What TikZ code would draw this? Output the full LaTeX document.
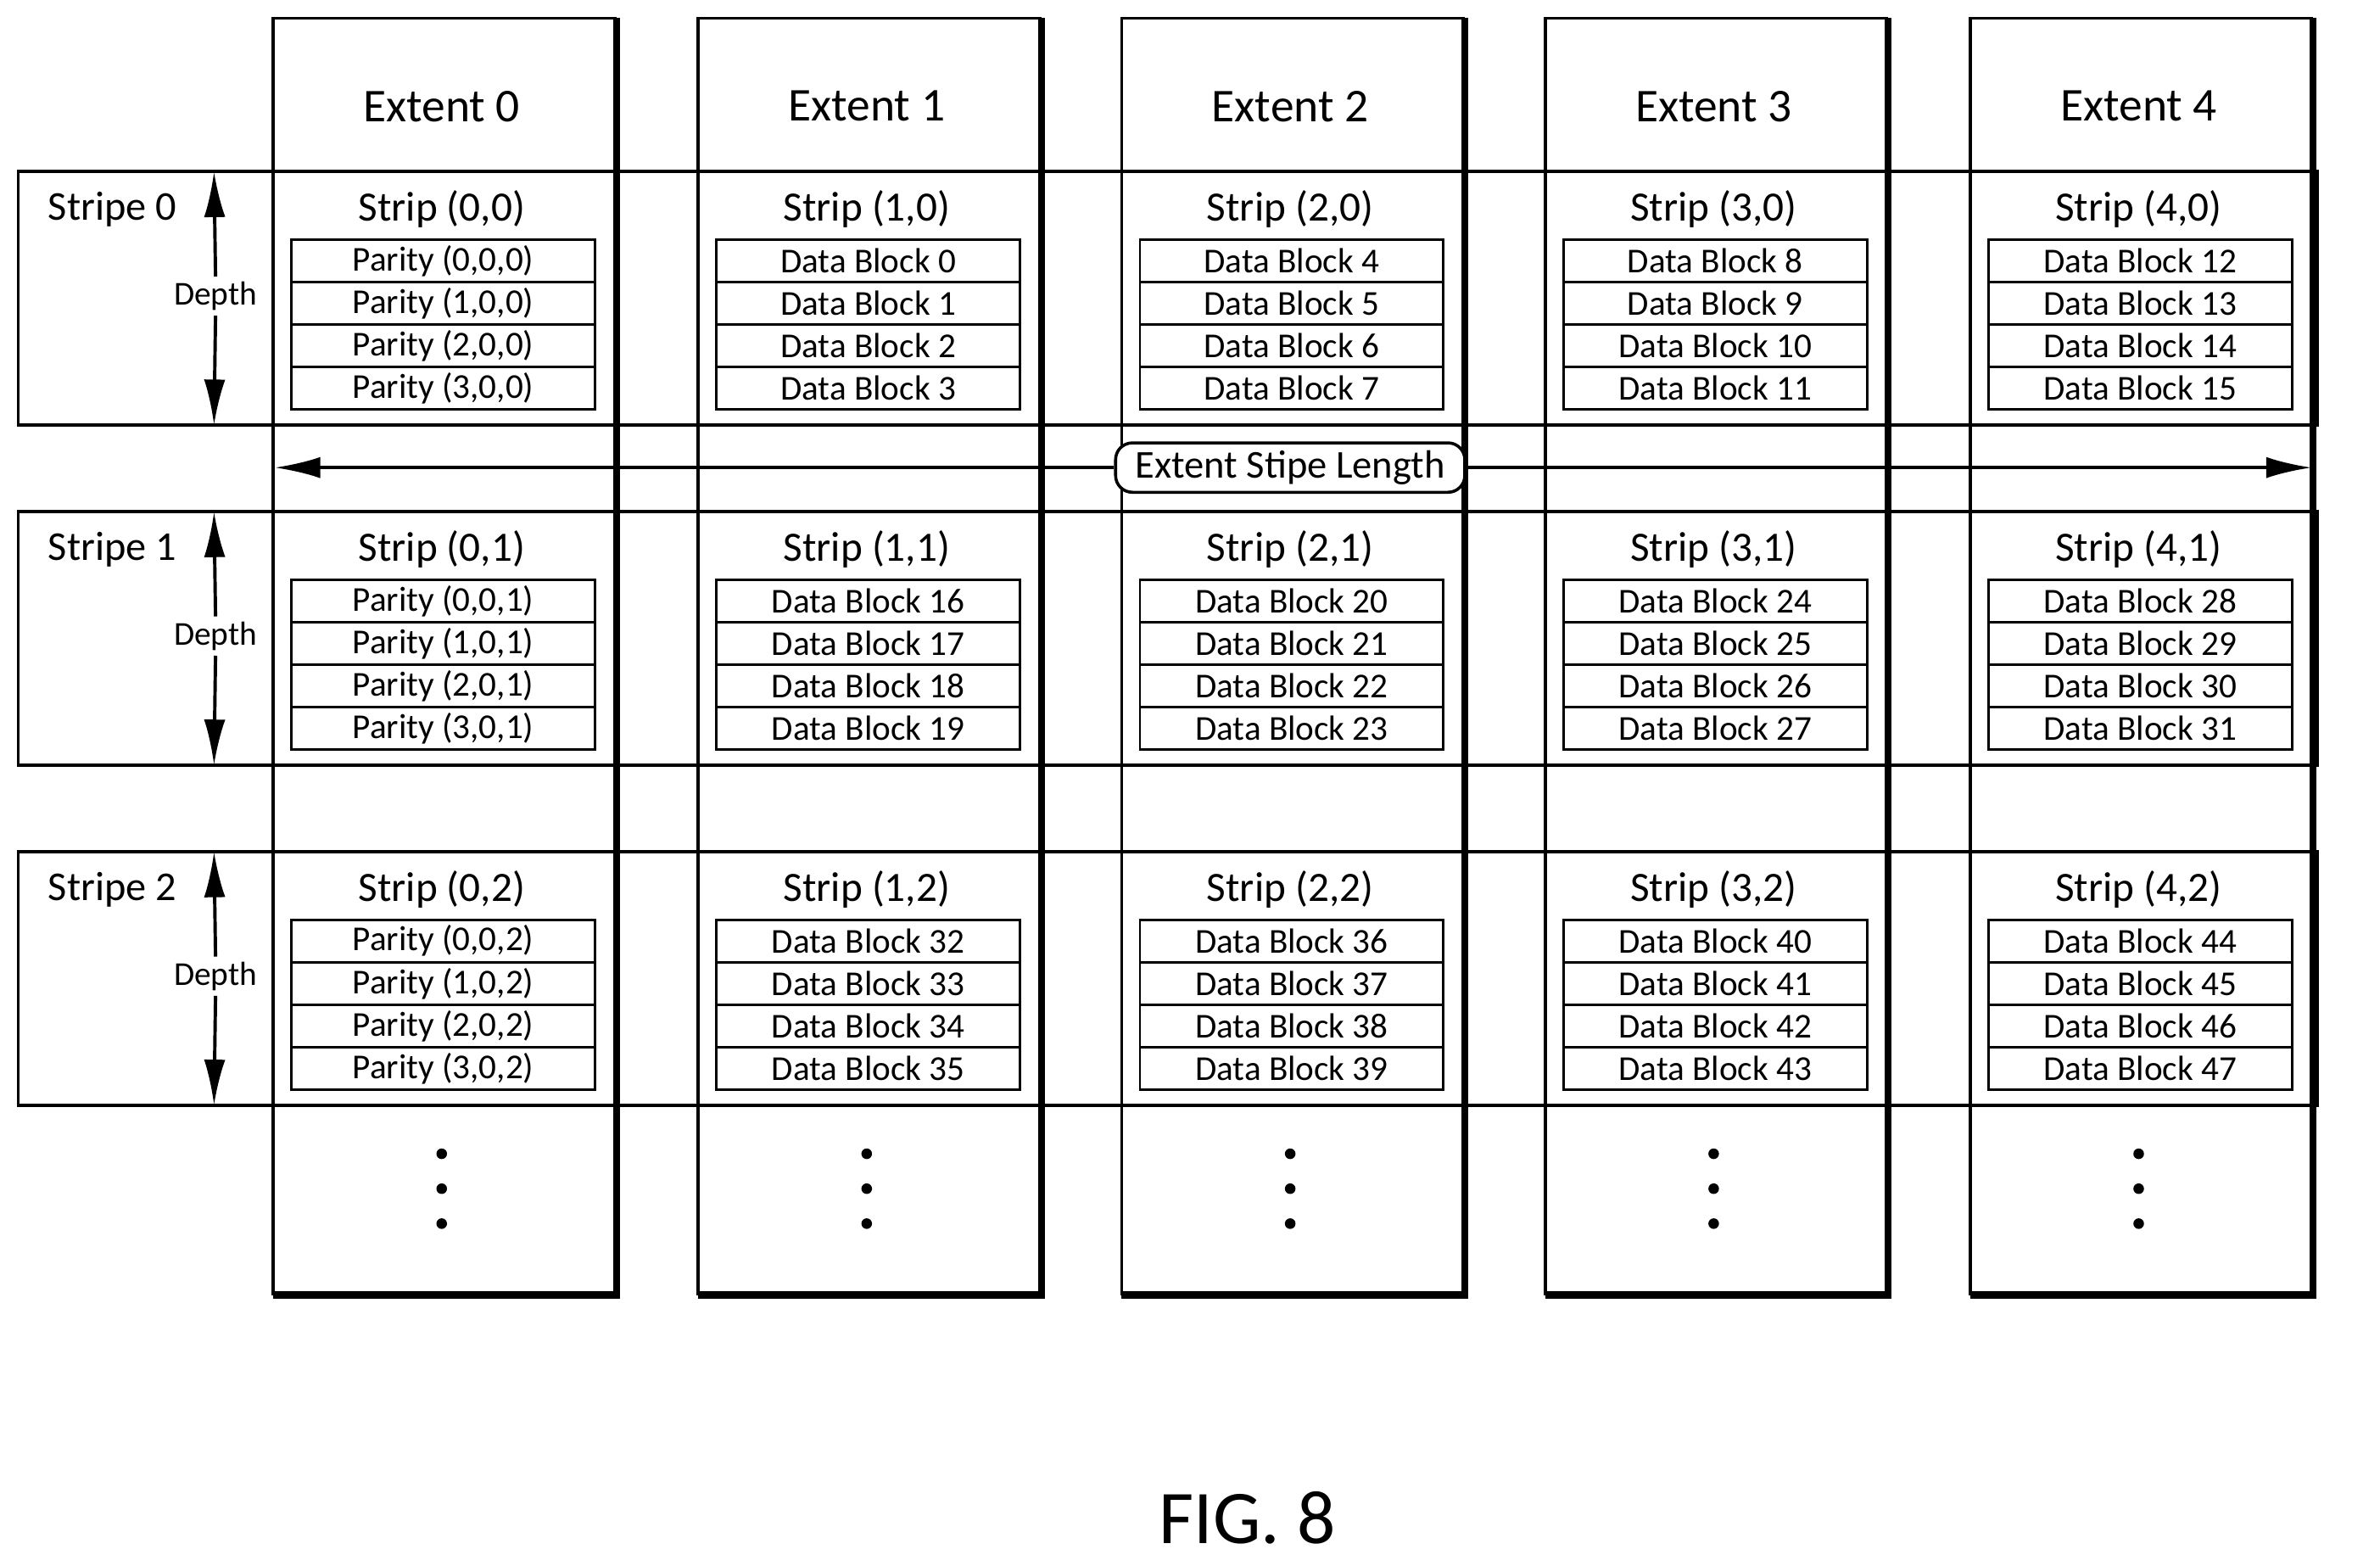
\documentclass[tikz,border=0pt]{standalone}
\usepackage{fontspec}
\setmainfont{Carlito}
\usetikzlibrary{arrows.meta}
\begin{document}
\begin{tikzpicture}[x=1pt,y=-1pt,
  thin box/.style={draw,line width=2pt},
  blk/.style={draw,line width=1.6pt,minimum width=200pt,minimum height=28pt,inner sep=0pt,font=\fontsize{23}{23}\selectfont,anchor=north},
  arr/.style={line width=2.2pt,-{Latex[length=30pt,width=14pt]}}]
\useasboundingbox (0,0) rectangle (1568,1031);
% stripes
\foreach \s/\t in {0/113,1/337,2/561}{
  \draw[thin box] (12,\t) rectangle (1527,\t+167);
  \node[font=\fontsize{27}{27}\selectfont] (stl\s) at (74,\t+25) {Stripe \s};
  \node[font=\fontsize{22}{22}\selectfont] (dep\s) at (142,\t+82) {Depth};
  \coordinate (dt\s) at (141,\t);
  \coordinate (db\s) at (141,\t+167);
  \draw[arr] (dep\s.north) -- (dt\s);
  \draw[arr] (dep\s.south) -- (db\s);
}
% extents
\foreach \e/\x in {0/180,1/460,2/739,3/1018,4/1298}{
  \draw[thin box] (\x,12) rectangle (\x+225,852);
  \draw[line width=4.5pt] (\x+226,12) -- (\x+226,853) -- (\x,853);
  \node[font=\fontsize{31}{31}\selectfont] (ext\e) at (\x+111,70) {Extent \e};
  \foreach \s/\t in {0/113,1/337,2/561}{
    \node[font=\fontsize{27.5}{27.5}\selectfont] (str\e\s) at (\x+111,\t+25) {Strip (\e,\s)};
    \foreach \r in {0,1,2,3}{
      \pgfmathtruncatemacro{\n}{\s*16+\e*4+\r-4}
      \ifnum\e=0
        \node[blk] (b\e\s\r) at (\x+112,\t+44+28*\r) {Parity (\r,0,\s)};
      \else
        \node[blk] (b\e\s\r) at (\x+112,\t+44+28*\r) {Data Block \n};
      \fi
    }
  }
  \foreach \d/\y in {a/760,b/783,c/806}{
    \fill (\x+111,\y) circle (3.5pt) coordinate (dot\e\d);
  }
}
% extent stripe length
\node[draw,line width=2pt,rounded corners=11pt,fill=white,inner xsep=13pt,inner ysep=5pt,font=\fontsize{26}{26}\selectfont] (esl) at (850,308) {Extent Stipe Length};
\coordinate (el) at (181,308);
\coordinate (er) at (1523,308);
\draw[arr] (esl.west) -- (el);
\draw[arr] (esl.east) -- (er);
\node[font=\fontsize{50}{50}\selectfont] (fig) at (822,1000) {FIG. 8};
\end{tikzpicture}
\end{document}
